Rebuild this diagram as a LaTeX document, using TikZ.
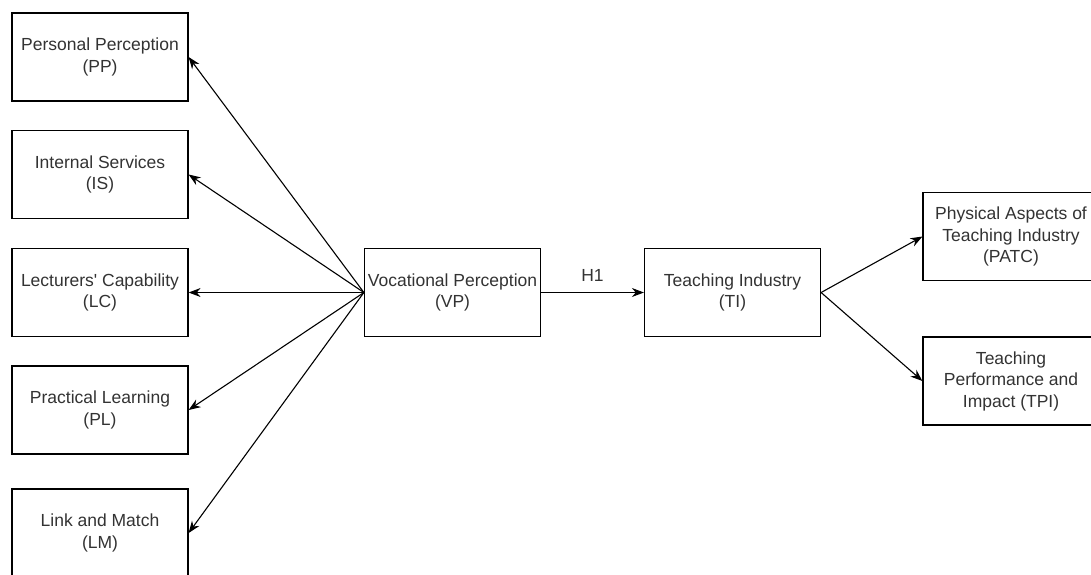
\documentclass[tikz,border=0pt]{standalone}
\usepackage{fontspec}
\setmainfont{Liberation Sans}
\usetikzlibrary{arrows.meta}

\tikzset{
  factor/.style={draw,line width=1.2pt,minimum width=176pt,minimum height=88pt,
    align=center,text=black!80,font=\fontsize{17.5}{21.5}\selectfont,inner sep=2pt},
  link/.style={line width=1.1pt,-{Stealth[length=12pt,width=9pt]}}
}

\begin{document}
\begin{tikzpicture}[x=1pt,y=-1pt]
\clip (0,0) rectangle (1091,574);
\fill[white] (0,0) rectangle (1091,574);

\foreach \n/\y/\t in {
  pp/57/Personal Perception\\(PP),
  is/174.5/Internal Services\\(IS),
  lc/292.5/Lecturers\textquotesingle{} Capability\\(LC),
  pl/410/Practical Learning\\(PL),
  lm/533/Link and Match\\(LM)}
  \node[factor] (\n) at (100,\y) {\t};

\node[factor] (vp) at (452.5,292.5) {Vocational Perception\\(VP)};
\node[factor] (ti) at (732.5,292.5) {Teaching Industry\\(TI)};
\node[factor] (patc) at (1011,236.5) {Physical Aspects of\\Teaching Industry\\(PATC)};
\node[factor] (tpi) at (1011,381) {Teaching\\Performance and\\Impact (TPI)};

\foreach \n in {pp,is,lc,pl,lm}
  \draw[link] (vp.west) -- (\n.east);

\draw[link] (vp) -- node[above=7pt,text=black!80,font=\fontsize{17.5}{20}\selectfont] (h1) {H1} (ti);
\draw[link] (ti.east) -- (patc.west);
\draw[link] (ti.east) -- (tpi.west);
\end{tikzpicture}
\end{document}
